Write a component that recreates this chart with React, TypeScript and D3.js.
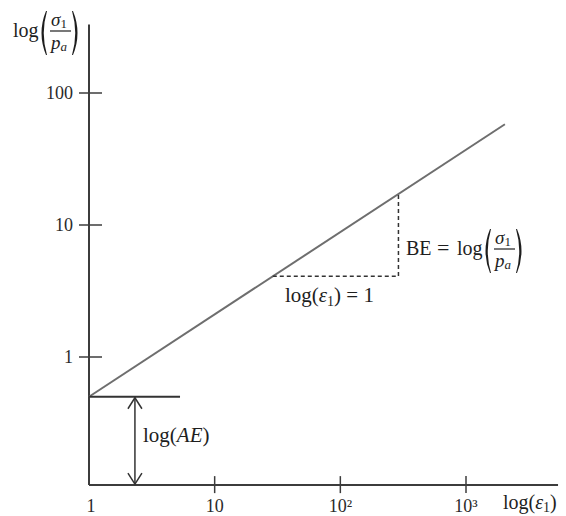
import React from 'react';
import * as d3 from 'd3';

// Axis ticks (log-log diagram)
const xTickValues = [1, 10, 100, 1000];
const xTickLabels = ['1', '10', '10²', '10³'];
const yTickValues = [1, 10, 100];
const yTickLabels = ['1', '10', '100'];

// Extent of the drawn axes in data units
const axisStrain = [1, 5400];
const axisStress = [0.107, 330];

// Power-law line: end points (strain, normalized stress)
const lineStrain = [1, 2040];
const lineStress = [0.5, 58];

// One-decade step used to show the slope
const stepStrain = [29, 290];

// Intercept marker: arrow position and shelf length along strain
const interceptArrowStrain = 2.32;
const interceptShelfStrain = 5.3;

const W = 566;
const H = 516;

const x = d3.scaleLog().domain([1, 1000]).range([89, 466]);
const y = d3.scaleLog().domain([1, 100]).range([357, 93]);

const slopeN = Math.log(lineStress[1] / lineStress[0]) / Math.log(lineStrain[1] / lineStrain[0]);
const stressAt = (e: number) => lineStress[0] * Math.pow(e / lineStrain[0], slopeN);

const FONT = '"Liberation Serif", "Times New Roman", serif';
const INK = '#1e1e1e';
const MATH = 20;

// Crescent-shaped bracket, mirrored for the closing side
function Paren({ px, top, bottom, right }: { px: number; top: number; bottom: number; right?: boolean }) {
  const mid = (top + bottom) / 2;
  const s = right ? -1 : 1;
  const d = `M${px + s * 6},${top} Q${px - s * 3},${mid} ${px + s * 6},${bottom} L${px + s * 7},${bottom} Q${px + s * 0.5},${mid} ${px + s * 7},${top} Z`;
  return <path d={d} fill={INK} />;
}

function LogFrac({ x0, base }: { x0: number; base: number }) {
  return (
    <g fill={INK} fontFamily={FONT}>
      <text x={x0} y={base} fontSize={MATH}>log</text>
      <Paren px={x0 + 27} top={base - 26} bottom={base + 18} />
      <text x={x0 + 38} y={base - 11} fontSize={19} fontStyle="italic">
        σ<tspan fontSize={13} dy={2} fontStyle="normal">1</tspan>
      </text>
      <line x1={x0 + 37} x2={x0 + 58} y1={base - 6} y2={base - 6} stroke={INK} strokeWidth={1.2} />
      <text x={x0 + 38} y={base + 12} fontSize={19} fontStyle="italic">
        p<tspan fontSize={13} dy={2}>a</tspan>
      </text>
      <Paren px={x0 + 66} top={base - 26} bottom={base + 18} right />
    </g>
  );
}

export default function App() {
  const x0 = x(axisStrain[0]);
  const x1 = x(axisStrain[1]);
  const yBottom = y(axisStress[0]);
  const yTop = y(axisStress[1]);

  const linePath = d3.line<number>()
    .x((e) => x(e))
    .y((e) => y(stressAt(e)))(lineStrain) as string;

  const sA = stepStrain[0];
  const sB = stepStrain[1];
  const stepPath = d3.line<[number, number]>()
    .x((d) => x(d[0]))
    .y((d) => y(d[1]))([
      [sA, stressAt(sA)],
      [sB, stressAt(sA)],
      [sB, stressAt(sB)],
    ]) as string;

  const aeY = y(lineStress[0]);
  const arrowX = x(interceptArrowStrain);

  return (
    <svg
      width={W}
      height={H}
      viewBox={`0 0 ${W} ${H}`}
      style={{ position: 'absolute', left: 0, top: 0, background: '#fff' }}
    >
      <rect width={W} height={H} fill="#fff" />

      {/* axes */}
      <line x1={x0} x2={x0} y1={yTop} y2={yBottom} stroke="#3c3c3c" strokeWidth={2} />
      <line x1={x0} x2={x1} y1={yBottom} y2={yBottom} stroke="#3c3c3c" strokeWidth={2} />

      {/* y ticks */}
      {yTickValues.map((v, i) => (
        <g key={`yt${i}`}>
          <line x1={x0 - 10} x2={x0 + 13} y1={y(v)} y2={y(v)} stroke="#3c3c3c" strokeWidth={1.5} />
          <text x={x0 - 16} y={y(v) + 6} textAnchor="end" fontFamily={FONT} fontSize={18} fill="#2a2a2a">
            {yTickLabels[i]}
          </text>
        </g>
      ))}

      {/* x ticks */}
      {xTickValues.map((v, i) => (
        <g key={`xt${i}`}>
          {i > 0 && (
            <line x1={x(v)} x2={x(v)} y1={yBottom - 9} y2={yBottom + 8} stroke="#3c3c3c" strokeWidth={1.5} />
          )}
          <text x={x(v) + (i === 0 ? 2 : 0)} y={512} textAnchor="middle" fontFamily={FONT} fontSize={18} fill="#2a2a2a">
            {xTickLabels[i]}
          </text>
        </g>
      ))}

      {/* power-law line */}
      <path d={linePath} fill="none" stroke="#6e6e6e" strokeWidth={2} />

      {/* one-decade slope triangle */}
      <path d={stepPath} fill="none" stroke="#333" strokeWidth={1.5} strokeDasharray="4 3" />

      {/* intercept shelf and double arrow */}
      <line x1={x0} x2={x(interceptShelfStrain)} y1={aeY} y2={aeY} stroke="#333" strokeWidth={1.8} />
      <line x1={arrowX} x2={arrowX} y1={aeY} y2={yBottom} stroke="#333" strokeWidth={1.5} />
      <polyline
        points={`${arrowX - 7},${aeY + 12} ${arrowX},${aeY + 1} ${arrowX + 7},${aeY + 12}`}
        fill="none"
        stroke="#333"
        strokeWidth={1.5}
      />
      <polyline
        points={`${arrowX - 7},${yBottom - 12} ${arrowX},${yBottom - 1} ${arrowX + 7},${yBottom - 12}`}
        fill="none"
        stroke="#333"
        strokeWidth={1.5}
      />

      {/* annotations */}
      <text x={143} y={442} fontFamily={FONT} fontSize={21} fill={INK}>
        log(<tspan fontStyle="italic">AE</tspan>)
      </text>

      <text x={285} y={302} fontFamily={FONT} fontSize={21} fill={INK}>
        log(<tspan fontStyle="italic">ε</tspan>
        <tspan fontSize={14} dy={4}>1</tspan>
        <tspan dy={-4}>) = 1</tspan>
      </text>

      <text x={406} y={255} fontFamily={FONT} fontSize={20} fill={INK}>BE</text>
      <text x={437} y={255} fontFamily={FONT} fontSize={22} fill={INK}>=</text>
      <LogFrac x0={457} base={255} />

      {/* axis titles */}
      <LogFrac x0={13} base={37} />
      <text x={503} y={509} fontFamily={FONT} fontSize={MATH} fill={INK}>
        log(<tspan fontStyle="italic">ε</tspan>
        <tspan fontSize={14} dy={3}>1</tspan>
        <tspan dy={-3}>)</tspan>
      </text>
    </svg>
  );
}
